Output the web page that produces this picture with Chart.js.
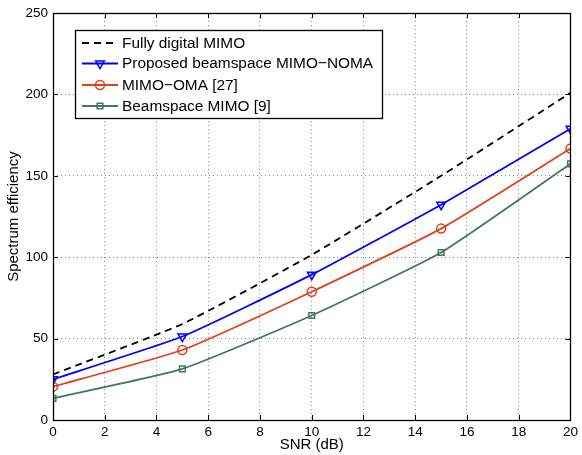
<!DOCTYPE html>
<html>
<head>
<meta charset="utf-8">
<script src="https://cdn.jsdelivr.net/npm/chart.js@4/dist/chart.umd.min.js"></script>
<style>
html,body{margin:0;padding:0;background:#fff;}
#wrap{width:582px;height:455px;position:relative;}
</style>
</head>
<body>
<div id="wrap"><canvas id="c" width="582" height="455"></canvas></div>
<script>
const snr = [0, 5, 10, 15, 20];
const fullyDigital = [28, 59, 101.5, 150, 201];
const proposedNoma = [25, 51.3, 89.3, 132.3, 179];
const mimoOma = [20.5, 43, 78.8, 117.6, 166.8];
const beamspaceMimo = [13.3, 31.4, 64.2, 102.9, 157.4];
const xTicks = [0, 2, 4, 6, 8, 10, 12, 14, 16, 18, 20];
const yTicks = [0, 50, 100, 150, 200, 250];
const labels = ['Fully digital MIMO', 'Proposed beamspace MIMO\u2212NOMA', 'MIMO\u2212OMA [27]', 'Beamspace MIMO [9]'];

const FONT = 'Liberation Sans, Arial, Helvetica, sans-serif';
const pts = arr => snr.map((x, i) => ({x: x, y: arr[i]}));
const legendRows = [43, 63.5, 85, 106];

const boxAndLegend = {
  id: 'boxAndLegend',
  afterDraw(chart) {
    const ctx = chart.ctx, a = chart.chartArea;
    const xs = chart.scales.x, ys = chart.scales.y;
    ctx.save();
    ctx.strokeStyle = '#000';
    ctx.lineWidth = 1;
    ctx.beginPath();
    xTicks.forEach(v => {
      const px = Math.round(xs.getPixelForValue(v)) + 0.5;
      ctx.moveTo(px, a.bottom); ctx.lineTo(px, a.bottom - 5);
      ctx.moveTo(px, a.top); ctx.lineTo(px, a.top + 5);
    });
    yTicks.forEach(v => {
      const py = Math.round(ys.getPixelForValue(v)) + 0.5;
      ctx.moveTo(a.left, py); ctx.lineTo(a.left + 5, py);
      ctx.moveTo(a.right, py); ctx.lineTo(a.right - 5, py);
    });
    ctx.stroke();
    ctx.lineWidth = 1.3;
    ctx.strokeRect(Math.round(a.left) + 0.5, Math.round(a.top) + 0.5, Math.round(a.right - a.left), Math.round(a.bottom - a.top));

    // legend
    const lx = 75.5, ly = 30.5, lw = 307, lh = 88;
    ctx.fillStyle = '#fff';
    ctx.fillRect(lx, ly, lw, lh);
    ctx.lineWidth = 1.3;
    ctx.strokeStyle = '#000';
    ctx.strokeRect(lx, ly, lw, lh);
    chart.data.datasets.forEach((ds, i) => {
      const y = legendRows[i];
      ctx.save();
      ctx.strokeStyle = ds.borderColor;
      ctx.lineWidth = ds.borderWidth;
      ctx.setLineDash(ds.borderDash || []);
      ctx.beginPath();
      ctx.moveTo(82, y); ctx.lineTo(118, y);
      ctx.stroke();
      ctx.restore();
      if (ds.pointRadius) {
        ctx.save();
        ctx.strokeStyle = ds.pointBorderColor;
        ctx.fillStyle = ds.pointBackgroundColor;
        ctx.lineWidth = ds.pointBorderWidth;
        Chart.helpers.drawPoint(ctx, {
          pointStyle: ds.pointStyle, rotation: ds.pointRotation || 0,
          radius: ds.pointRadius, borderWidth: ds.pointBorderWidth
        }, 100, y);
        ctx.restore();
      }
      ctx.fillStyle = '#000';
      ctx.font = '15.4px ' + FONT;
      ctx.textBaseline = 'middle';
      ctx.textAlign = 'left';
      ctx.fillText(ds.label, 122, y + 0.5);
    });
    ctx.restore();
  }
};

const colors = ['#000000', '#0000ff', '#e0401a', '#3d7a5c'];

new Chart(document.getElementById('c'), {
  type: 'line',
  data: {
    datasets: [
      {label: labels[0], data: pts(fullyDigital), borderColor: colors[0], borderWidth: 1.8, borderDash: [7, 5], pointRadius: 0, pointStyle: false, tension: 0.15, fill: false},
      {label: labels[1], data: pts(proposedNoma), borderColor: colors[1], borderWidth: 1.8, pointStyle: 'triangle', pointRotation: 180, pointRadius: 5, pointBorderWidth: 1.5, pointBorderColor: colors[1], pointBackgroundColor: 'rgba(255,255,255,0)', tension: 0.15, fill: false},
      {label: labels[2], data: pts(mimoOma), borderColor: colors[2], borderWidth: 1.8, pointStyle: 'circle', pointRadius: 4.5, pointBorderWidth: 1.5, pointBorderColor: colors[2], pointBackgroundColor: 'rgba(255,255,255,0)', tension: 0.15, fill: false},
      {label: labels[3], data: pts(beamspaceMimo), borderColor: colors[3], borderWidth: 1.8, pointStyle: 'rect', pointRadius: 4, pointBorderWidth: 1.5, pointBorderColor: colors[3], pointBackgroundColor: 'rgba(255,255,255,0)', tension: 0.15, fill: false}
    ]
  },
  options: {
    responsive: false,
    animation: false,
    events: [],
    layout: {padding: {left: 0, right: 10, top: 12, bottom: 0}},
    plugins: {legend: {display: false}, tooltip: {enabled: false}},
    scales: {
      x: {
        type: 'linear', min: 0, max: 20,
        afterBuildTicks: s => { s.ticks = xTicks.map(v => ({value: v})); },
        afterFit: s => { s.height = 35; },
        ticks: {color: '#000', font: {family: FONT, size: 13.5}, padding: 4, maxRotation: 0, autoSkip: false},
        grid: {color: '#888', lineWidth: 1, drawTicks: false},
        border: {display: false, dash: [1, 3]},
        title: {display: true, text: 'SNR (dB)', color: '#000', font: {family: FONT, size: 15}, padding: {top: 0, bottom: 1}}
      },
      y: {
        type: 'linear', min: 0, max: 250,
        afterBuildTicks: s => { s.ticks = yTicks.map(v => ({value: v})); },
        afterFit: s => { s.width = 53; },
        ticks: {color: '#000', font: {family: FONT, size: 13.5}, padding: 5},
        grid: {color: '#888', lineWidth: 1, drawTicks: false},
        border: {display: false, dash: [1, 3]},
        title: {display: true, text: 'Spectrum efficiency', color: '#000', font: {family: FONT, size: 15}, padding: {top: 5, bottom: 0}}
      }
    }
  },
  plugins: [boxAndLegend]
});
</script>
</body>
</html>
